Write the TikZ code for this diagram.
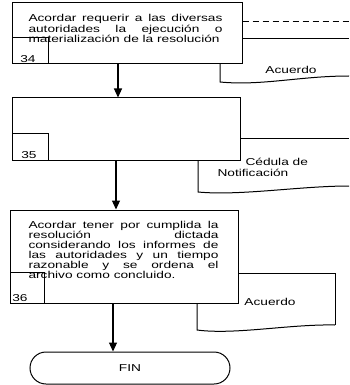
\documentclass[tikz,border=0pt]{standalone}
\usepackage{fontspec}
\setmainfont{Liberation Sans}[FakeStretch=1.37]
\usetikzlibrary{arrows.meta}

\begin{document}
\begin{tikzpicture}[x=1pt,y=-1pt,line width=1pt,
	proc/.style={draw, rectangle, inner sep=0pt},
	subbox/.style={draw, rectangle, inner sep=0pt, anchor=south west},
	txt/.style={inner sep=0pt, align=justify, anchor=north west, font=\fontsize{10}{8.5}\selectfont},
	lbl/.style={inner sep=0pt, font=\fontsize{10}{11}\selectfont},
	flow/.style={-{Triangle[width=8pt,length=9pt]}, line width=1.1pt},
	term/.style={draw, rectangle, rounded corners=16pt, inner sep=0pt}]
	\useasboundingbox (0,0) rectangle (349,385);

	% step 34
	\node[proc, minimum width=230pt, minimum height=61pt] (b34) at (127,33.5) {};
	\node[subbox, minimum width=36pt, minimum height=26pt] (s34) at (b34.south west) {};
	\node[lbl] (n34) at (28,59) {34};
	\node[txt, text width=194pt] (t34) at (28,14) {Acordar requerir a las diversas\linebreak autoridades la ejecución o\linebreak materialización de la resolución};

	% step 35
	\node[proc, minimum width=228pt, minimum height=62pt] (b35) at (126,129) {};
	\node[subbox, minimum width=36pt, minimum height=27pt] (s35) at (b35.south west) {};
	\node[lbl] (n35) at (29,155) {35};

	% step 36
	\node[proc, minimum width=228pt, minimum height=93pt] (b36) at (124,256.5) {};
	\node[subbox, minimum width=34pt, minimum height=31pt] (s36) at (b36.south west) {};
	\node[lbl] (n36) at (20,298) {36};
	\node[txt, text width=190pt, font=\fontsize{10}{10}\selectfont] (t36) at (28,221) {Acordar tener por cumplida la\linebreak resolución dictada\linebreak considerando los informes de\linebreak las autoridades y un tiempo\linebreak razonable y se ordena el\linebreak archivo como concluido.};

	% end
	\node[term, minimum width=200pt, minimum height=32pt, font=\fontsize{10}{11}\selectfont] (fin) at (130,368) {FIN};

	% documents
	\draw[dash pattern=on 6pt off 4pt] (b34.east |- 0,22) -- (349,22);
	\draw (b34.east |- 0,39) -- (349,39);
	\draw (220,64) -- (220,82) .. controls (262,86) and (300,76) .. (349,76);
	\node[lbl] (d34) at (291,70) {Acuerdo};

	\draw (b35.east |- 0,138) -- (349,138);
	\draw (198,160) -- (198,192) .. controls (240,196) and (300,186) .. (349,186);
	\node[lbl, anchor=west] (d35a) at (245,162) {Cédula de};
	\node[lbl, anchor=west] (d35b) at (217,173) {Notificación};

	\draw (b36.east |- 0,273) -- (335,273) -- (335,325);
	\draw (197,303) -- (197,330) .. controls (235,335) and (290,324) .. (335,325);
	\node[lbl] (d36) at (270,302) {Acuerdo};

	% arrows
	\coordinate (a1) at (118,0);
	\coordinate (a2) at (116,0);
	\coordinate (a3) at (113,0);
	\draw[flow] (b34.south -| a1) -- (b35.north -| a1);
	\draw[flow] (b35.south -| a2) -- (b36.north -| a2);
	\draw[flow] (b36.south -| a3) -- (fin.north -| a3);
\end{tikzpicture}
\end{document}
